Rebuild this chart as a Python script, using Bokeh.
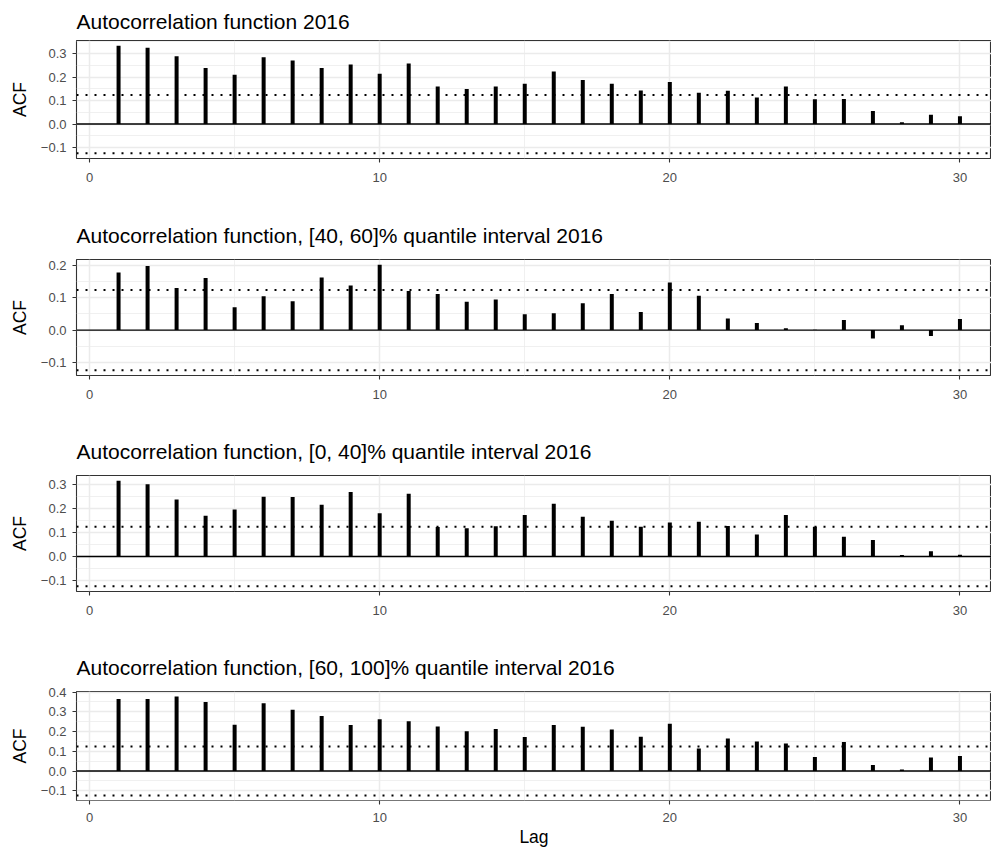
from bokeh.plotting import figure
from bokeh.layouts import column
from bokeh.models import Span, FixedTicker
from bokeh.embed import file_html
from bokeh.resources import INLINE

lags = list(range(1, 31))
ci = 0.124

acf_all = [0.333, 0.325, 0.289, 0.239, 0.210, 0.285, 0.271, 0.239, 0.254, 0.214,
           0.258, 0.160, 0.149, 0.160, 0.172, 0.224, 0.188, 0.172, 0.143, 0.179,
           0.133, 0.142, 0.113, 0.160, 0.106, 0.107, 0.056, 0.008, 0.040, 0.033]
acf_40_60 = [0.178, 0.198, 0.130, 0.161, 0.071, 0.105, 0.089, 0.163, 0.138, 0.202,
             0.121, 0.112, 0.088, 0.095, 0.049, 0.052, 0.083, 0.112, 0.056, 0.147,
             0.106, 0.036, 0.022, 0.006, 0.001, 0.031, -0.026, 0.015, -0.018, 0.034]
acf_0_40 = [0.315, 0.301, 0.237, 0.169, 0.195, 0.248, 0.247, 0.215, 0.268, 0.180,
            0.261, 0.123, 0.117, 0.126, 0.173, 0.219, 0.165, 0.149, 0.124, 0.141,
            0.144, 0.127, 0.091, 0.172, 0.124, 0.082, 0.068, 0.006, 0.022, 0.007]
acf_60_100 = [0.365, 0.365, 0.378, 0.350, 0.235, 0.344, 0.311, 0.279, 0.233, 0.263,
              0.253, 0.226, 0.202, 0.213, 0.172, 0.233, 0.225, 0.210, 0.174, 0.240,
              0.114, 0.165, 0.150, 0.140, 0.071, 0.147, 0.031, 0.008, 0.069, 0.076]

titles = ["Autocorrelation function 2016",
          "Autocorrelation function, [40, 60]% quantile interval 2016",
          "Autocorrelation function, [0, 40]% quantile interval 2016",
          "Autocorrelation function, [60, 100]% quantile interval 2016"]
series = [acf_all, acf_40_60, acf_0_40, acf_60_100]

y_ticks = [[-0.1, 0.0, 0.1, 0.2, 0.3],
           [-0.1, 0.0, 0.1, 0.2],
           [-0.1, 0.0, 0.1, 0.2, 0.3],
           [-0.1, 0.0, 0.1, 0.2, 0.3, 0.4]]
y_tick_labels = [["\u22120.1", "0.0", "0.1", "0.2", "0.3"],
                 ["\u22120.1", "0.0", "0.1", "0.2"],
                 ["\u22120.1", "0.0", "0.1", "0.2", "0.3"],
                 ["\u22120.1", "0.0", "0.1", "0.2", "0.3", "0.4"]]
x_ticks = [0, 10, 20, 30]
x_minor = [5, 15, 25]
x_tick_labels = ["0", "10", "20", "30"]

FONT = "Liberation Sans"
heights = [207, 216, 216, 211]
tops = [40, 52, 52, 52]
bottoms = [49, 48, 48, 50]
title_standoffs = [15, 26, 26, 26]
xlabel_standoffs = [10, 10, 10, 8]

figs = []
for i, (title, vals) in enumerate(zip(titles, series)):
    lo = min(min(vals), -ci)
    hi = max(max(vals), ci)
    pad = 0.05 * (hi - lo)
    xlo, xhi = min(lags), max(lags)
    xpad = 0.05 * (xhi - xlo)
    p = figure(width=991, height=heights[i], output_backend="svg", toolbar_location=None,
               x_range=(xlo - xpad, xhi + xpad * 0.75), y_range=(lo - pad, hi + pad),
               min_border_left=76, min_border_right=0, min_border_top=tops[i],
               min_border_bottom=bottoms[i])
    p.title.text = title
    p.title.text_font = FONT
    p.title.text_font_size = "21px"
    p.title.text_font_style = "normal"
    p.title.text_color = "black"
    p.title.standoff = title_standoffs[i]
    p.title.offset = 0

    p.outline_line_color = "#333333"
    p.outline_line_width = 1.1

    yt = y_ticks[i]
    ym = [t + 0.05 for t in yt[:-1]] + [yt[0] - 0.05, yt[-1] + 0.05]
    p.yaxis.ticker = FixedTicker(ticks=yt, minor_ticks=ym)
    p.yaxis.major_label_overrides = {t: l for t, l in zip(yt, y_tick_labels[i])}
    p.xaxis.ticker = FixedTicker(ticks=x_ticks, minor_ticks=x_minor)
    p.xaxis.major_label_overrides = {t: l for t, l in zip(x_ticks, x_tick_labels)}

    for ax in (p.xaxis[0], p.yaxis[0]):
        ax.axis_line_color = None
        ax.major_tick_line_color = "#333333"
        ax.major_tick_line_width = 1.1
        ax.major_tick_out = 4
        ax.major_tick_in = 0
        ax.minor_tick_line_color = None
        ax.major_label_text_font = FONT
        ax.major_label_text_font_size = "13px"
        ax.major_label_text_color = "#4D4D4D"
        ax.axis_label_text_font = FONT
        ax.axis_label_text_font_size = "17.5px"
        ax.axis_label_text_font_style = "normal"
        ax.axis_label_text_color = "black"
    p.yaxis.major_label_standoff = 6
    p.xaxis.major_label_standoff = xlabel_standoffs[i]
    p.yaxis.axis_label = "ACF"
    p.yaxis.axis_label_standoff = 8
    if i == 3:
        p.xaxis.axis_label = "Lag"
        p.xaxis.axis_label_standoff = 2

    for g in (p.xgrid[0], p.ygrid[0]):
        g.grid_line_color = "#EBEBEB"
        g.grid_line_width = 1.5
        g.minor_grid_line_color = "#EBEBEB"
        g.minor_grid_line_width = 0.75

    p.segment(x0=lags, y0=[0] * len(lags), x1=lags, y1=vals,
              line_color="black", line_width=4)
    p.add_layout(Span(location=0, dimension="width", line_color="black", line_width=1.4))
    for loc in (ci, -ci):
        p.add_layout(Span(location=loc, dimension="width", line_color="black",
                          line_width=2, line_dash="2 7"))
    figs.append(p)

layout = column(*figs, spacing=0)
open("out.html", "w").write(file_html(layout, INLINE))
